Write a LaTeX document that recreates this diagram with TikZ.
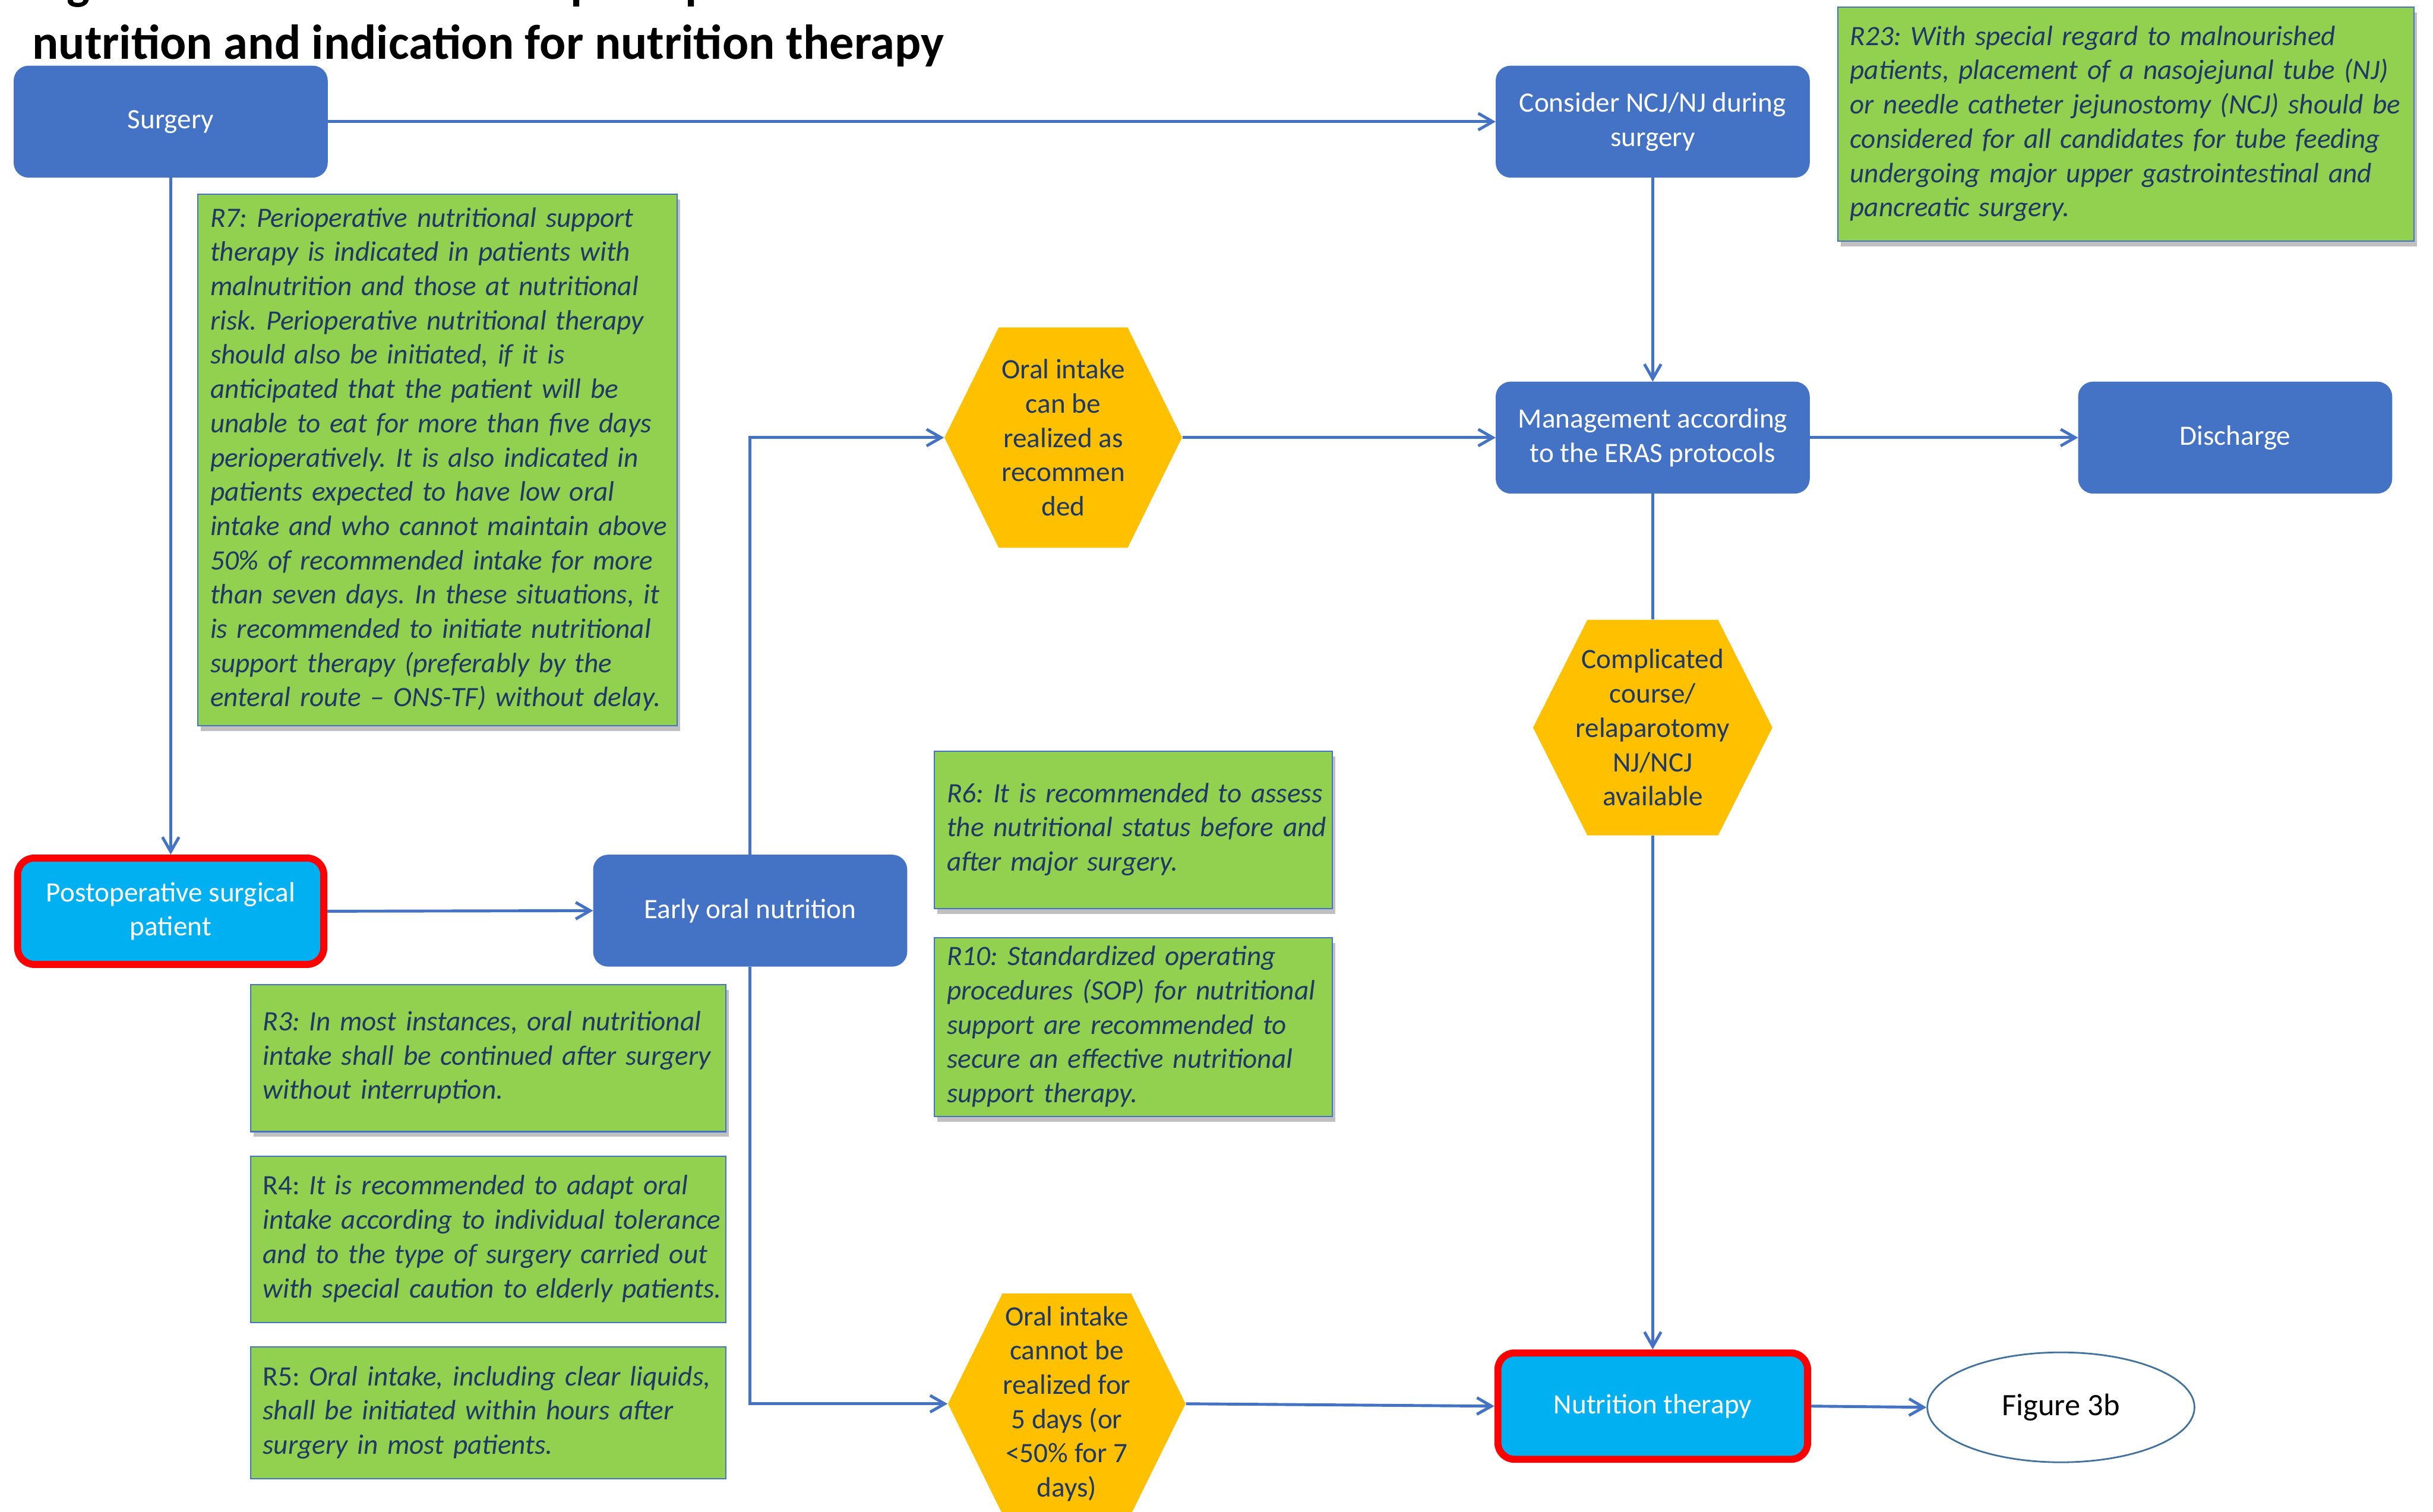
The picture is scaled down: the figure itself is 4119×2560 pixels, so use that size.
\documentclass[tikz,border=0pt]{standalone}
\usepackage{fontspec}
\setmainfont{Carlito}
\usetikzlibrary{arrows.meta,shapes.geometric,shadows,calc}

\definecolor{boxblue}{HTML}{4472C4}
\definecolor{boxcyan}{HTML}{00B0F0}
\definecolor{notegreen}{HTML}{92D050}
\definecolor{hexgold}{HTML}{FFC000}
\definecolor{inknavy}{HTML}{1F3864}
\definecolor{ovalline}{HTML}{41719C}

\newcommand{\notelines}[1]{\begin{tabular}{@{}l@{}}#1\end{tabular}}

\tikzset{
  txt/.style={font=\fontsize{13.5}{16.5}\selectfont},
  title/.style={font=\fontsize{23.6}{28}\selectfont\bfseries, inner sep=0pt, anchor=base west},
  stepbox/.style={txt, rectangle, rounded corners=7pt, fill=boxblue, draw=boxblue, text=white,
    align=center, minimum width=5.3cm, minimum height=1.88cm, inner sep=2pt},
  keybox/.style={txt, rectangle, rounded corners=8pt, fill=boxcyan, draw=red, line width=3.4pt,
    text=white, align=center, minimum width=5.18cm, minimum height=1.80cm, inner sep=2pt},
  hexbox/.style={txt, rectangle, text=inknavy, align=center, minimum width=4.02cm,
    minimum height=3.73cm, inner sep=0pt,
    path picture={\fill[hexgold] (path picture bounding box.west)
      -- ($(path picture bounding box.north west)+(0.92cm,0)$)
      -- ($(path picture bounding box.north east)+(-0.92cm,0)$)
      -- (path picture bounding box.east)
      -- ($(path picture bounding box.south east)+(-0.92cm,0)$)
      -- ($(path picture bounding box.south west)+(0.92cm,0)$) -- cycle;}},
  notebox/.style={font=\fontsize{13.5}{16.5}\selectfont\itshape, rectangle, fill=notegreen,
    draw=boxblue, line width=0.6pt, text=inknavy, align=left, anchor=north west,
    inner xsep=0.21cm, inner ysep=0pt},
  noteshadow/.style={drop shadow={shadow xshift=0.05cm, shadow yshift=-0.09cm,
    fill=black!55, opacity=0.45}},
  ovalbox/.style={ellipse, draw=ovalline, line width=0.8pt, fill=white,
    font=\fontsize{15}{18}\selectfont, minimum width=4.52cm, minimum height=1.86cm, inner sep=0pt},
  link/.style={draw=boxblue, line width=1.4pt, -{Straight Barb[length=7pt,width=8pt]}},
  plainlink/.style={draw=boxblue, line width=1.4pt}
}

\begin{document}
\frenchspacing
\begin{tikzpicture}[x=0.01cm, y=-0.01cm]
\useasboundingbox (0,0) rectangle (4119,2560);

\node[title] (title1) at (54,-2) {Figure 3a: Flow scheme of postoperative};
\node[title] (title2) at (54,100) {nutrition and indication for nutrition therapy};

\node[stepbox] (surgery) at (289,206) {Surgery};
\node[stepbox] (consider) at (2798,206) {Consider NCJ/NJ during\\surgery};
\node[stepbox] (eras) at (2798,741) {Management according\\to the ERAS protocols};
\node[stepbox] (discharge) at (3784,741) {Discharge};
\node[stepbox] (early) at (1270,1542) {Early oral nutrition};
\node[keybox] (postop) at (289,1543) {Postoperative surgical\\patient};
\node[keybox, minimum width=5.24cm] (therapy) at (2798,2381) {Nutrition therapy};

\node[hexbox] (canoral) at (1800,741) {Oral intake\\can be\\realized as\\recommen\\ded};
\node[hexbox, minimum width=4.05cm, minimum height=3.65cm] (complic) at (2798,1232)
  {Complicated\\course/\\relaparotomy\\NJ/NCJ\\available};
\node[hexbox] (cannotoral) at (1806,2377)
  {Oral intake\\cannot be\\realized for\\5 days (or\\<50\% for 7\\days)};
\node[ovalbox] (fig3b) at (3489,2383) {Figure 3b};

\node[notebox, noteshadow, text width=9.33cm, minimum height=3.96cm] (r23) at (3110,11)
  {\notelines{R23: With special regard to malnourished\\
   patients, placement of a nasojejunal tube (NJ)\\
   or needle catheter jejunostomy (NCJ) should be\\
   considered for all candidates for tube feeding\\
   undergoing major upper gastrointestinal and\\
   pancreatic surgery.}};
\node[notebox, noteshadow, text width=7.69cm, minimum height=8.99cm] (r7) at (334,328)
  {\notelines{R7: Perioperative nutritional support\\
   therapy is indicated in patients with\\
   malnutrition and those at nutritional\\
   risk. Perioperative nutritional therapy\\
   should also be initiated, if it is\\
   anticipated that the patient will be\\
   unable to eat for more than five days\\
   perioperatively. It is also indicated in\\
   patients expected to have low oral\\
   intake and who cannot maintain above\\
   50\% of recommended intake for more\\
   than seven days. In these situations, it\\
   is recommended to initiate nutritional\\
   support therapy (preferably by the\\
   enteral route -- ONS-TF) without delay.}};
\node[notebox, noteshadow, text width=6.31cm, minimum height=2.66cm] (r6) at (1581,1271)
  {\notelines{R6: It is recommended to assess\\
   the nutritional status before and\\
   after major surgery.}};
\node[notebox, noteshadow, text width=6.31cm, minimum height=3.02cm] (r10) at (1581,1587)
  {\notelines{R10: Standardized operating\\
   procedures (SOP) for nutritional\\
   support are recommended to\\
   secure an effective nutritional\\
   support therapy.}};
\node[notebox, noteshadow, text width=7.62cm, minimum height=2.49cm] (r3) at (423,1666)
  {\notelines{R3: In most instances, oral nutritional\\
   intake shall be continued after surgery\\
   without interruption.}};
\node[notebox, text width=7.62cm, minimum height=2.81cm] (r4) at (423,1957)
  {\notelines{\textup{R4:} It is recommended to adapt oral\\
   intake according to individual tolerance\\
   and to the type of surgery carried out\\
   with special caution to elderly patients.}};
\node[notebox, text width=7.62cm, minimum height=2.23cm] (r5) at (423,2280)
  {\notelines{\textup{R5:} Oral intake, including clear liquids,\\
   shall be initiated within hours after\\
   surgery in most patients.}};

\draw[link] (surgery.east) -- (consider.west);
\draw[link] (surgery.south) -- (postop.north);
\draw[link] (consider.south) -- (eras.north);
\draw[link] (postop.east) -- (early.west);
\draw[link] (early.north) |- (canoral.west);
\draw[link] (early.south) |- (cannotoral.west);
\draw[link] (canoral.east) -- (eras.west);
\draw[link] (eras.east) -- (discharge.west);
\draw[plainlink] (eras.south) -- (complic.north);
\draw[link] (complic.south) -- (therapy.north);
\draw[link] (cannotoral.east) -- (therapy.west);
\draw[link] (therapy.east) -- (fig3b.west);
\end{tikzpicture}
\end{document}
